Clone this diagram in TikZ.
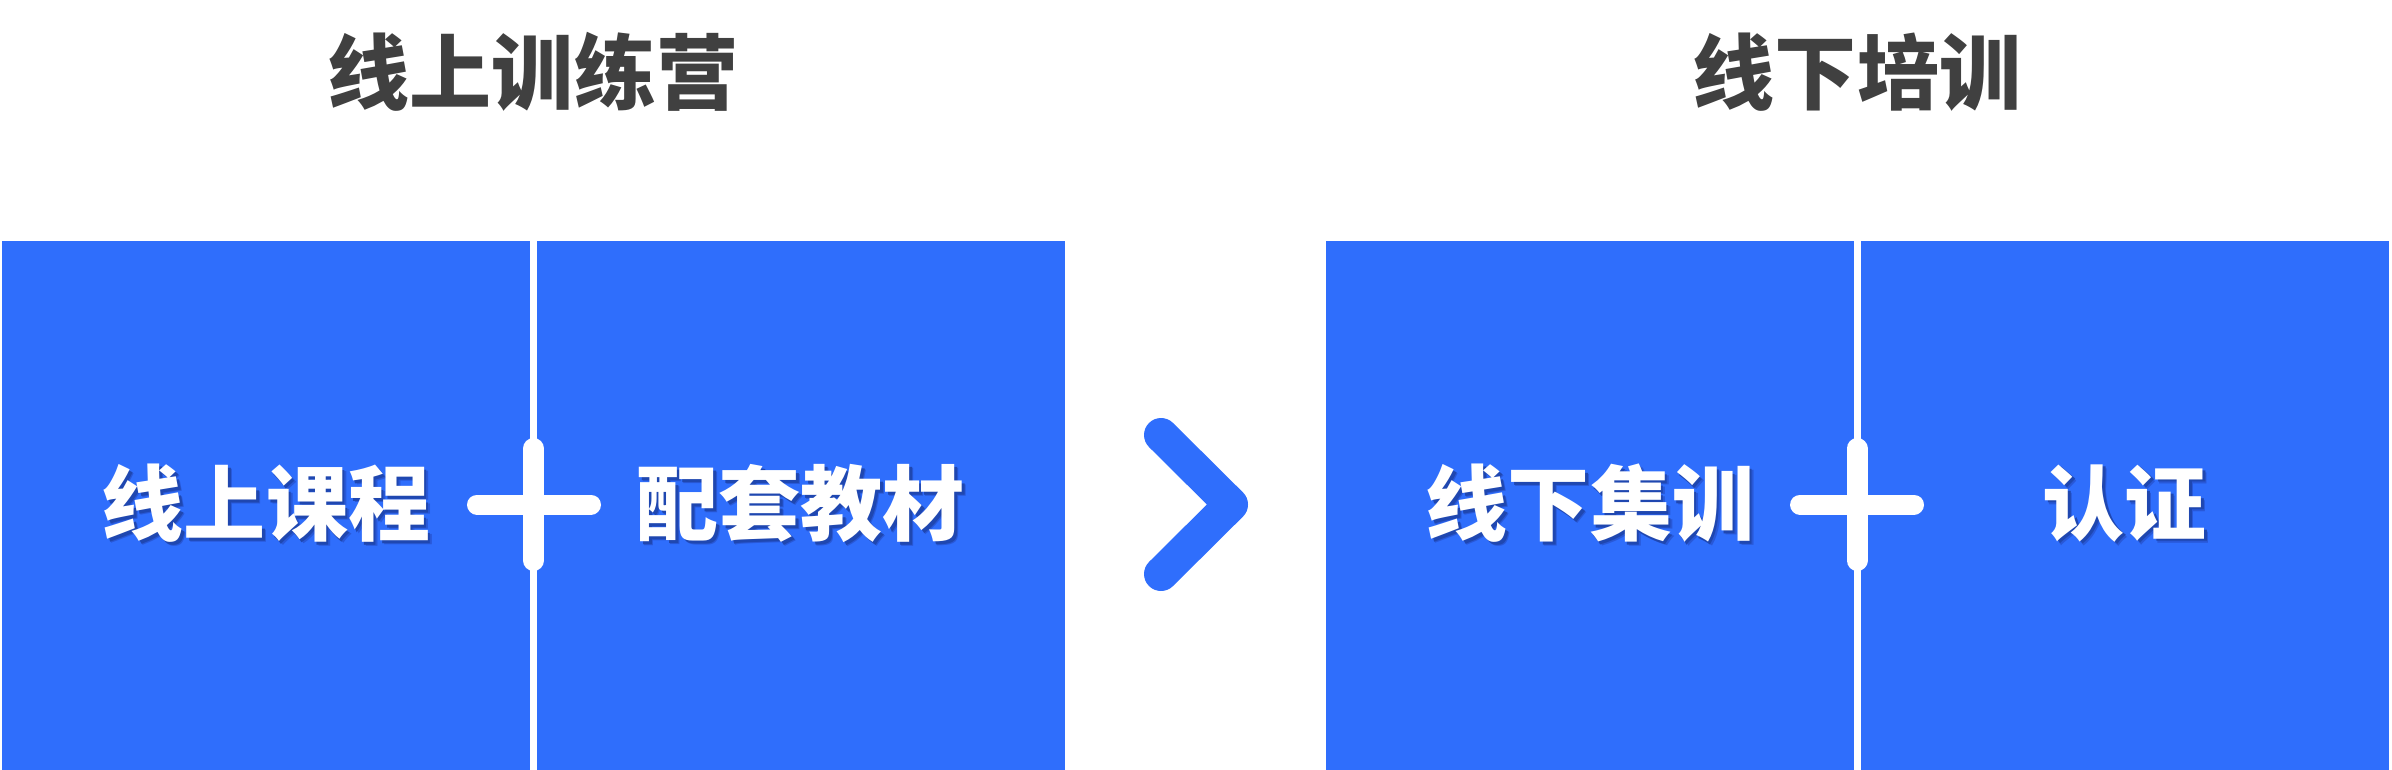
\documentclass[tikz,border=0pt]{standalone}
\usepackage{fontspec}
\usepackage{xcolor}
\usepackage{tikz}
\usetikzlibrary{positioning}
\newfontfamily\cjk{Noto Sans CJK SC}
\definecolor{kuanglan}{HTML}{2F6EFC}
\definecolor{yinlan}{HTML}{1F47B0}
\definecolor{qianyin}{HTML}{2858D8}
\definecolor{biaohui}{HTML}{404040}
% 文字阴影
\newcommand{\yinying}[1]{\rlap{\raisebox{-0.08cm}{\kern0.08cm\textcolor{qianyin}{#1}}}\rlap{\raisebox{-0.05cm}{\kern0.05cm\textcolor{yinlan}{#1}}}#1}
\tikzset{
  fangkuai/.style={fill=kuanglan, minimum width=10.56cm, minimum height=10.58cm, inner sep=0pt,
    text=white, font=\cjk\bfseries\fontsize{46.7}{50}\selectfont},
  biaoti/.style={text=biaohui, inner sep=0pt, font=\cjk\bfseries\fontsize{46.7}{50}\selectfont},
  jiahao/.style={white, line cap=round},
}

\begin{document}
\begin{tikzpicture}[x=0.02cm, y=-0.02cm]
            \useasboundingbox (0,0) rectangle (2392,770);
            % 方块
            \node[fangkuai] (kecheng) at (266,505.5) {\yinying{线上课程}};
            \node[fangkuai, right=0.12cm of kecheng] (jiaocai) {\yinying{配套教材}};
            \node[fangkuai] (jixun) at (1590,505.5) {\yinying{线下集训}};
            \node[fangkuai, right=0.12cm of jixun] (renzheng) {\yinying{认证}};
            % 标题
            \node[biaoti] (xianshang) at (533,72) {线上训练营};
            \node[biaoti] (xianxia) at (1857,72) {线下培训};
            % 加号
            \draw[jiahao, line width=0.4cm] (477,504.5) -- (591,504.5);
            \draw[jiahao, line width=0.42cm] (533.5,448.5) -- (533.5,560.5);
            \draw[jiahao, line width=0.4cm] (1800,504.5) -- (1914,504.5);
            \draw[jiahao, line width=0.42cm] (1857,448.5) -- (1857,560.5);
            % 箭头
            \draw[kuanglan, line width=0.68cm, line cap=round, line join=round] (1161,435) -- (1231,504.5) -- (1161,574);
        \end{tikzpicture}
\end{document}
